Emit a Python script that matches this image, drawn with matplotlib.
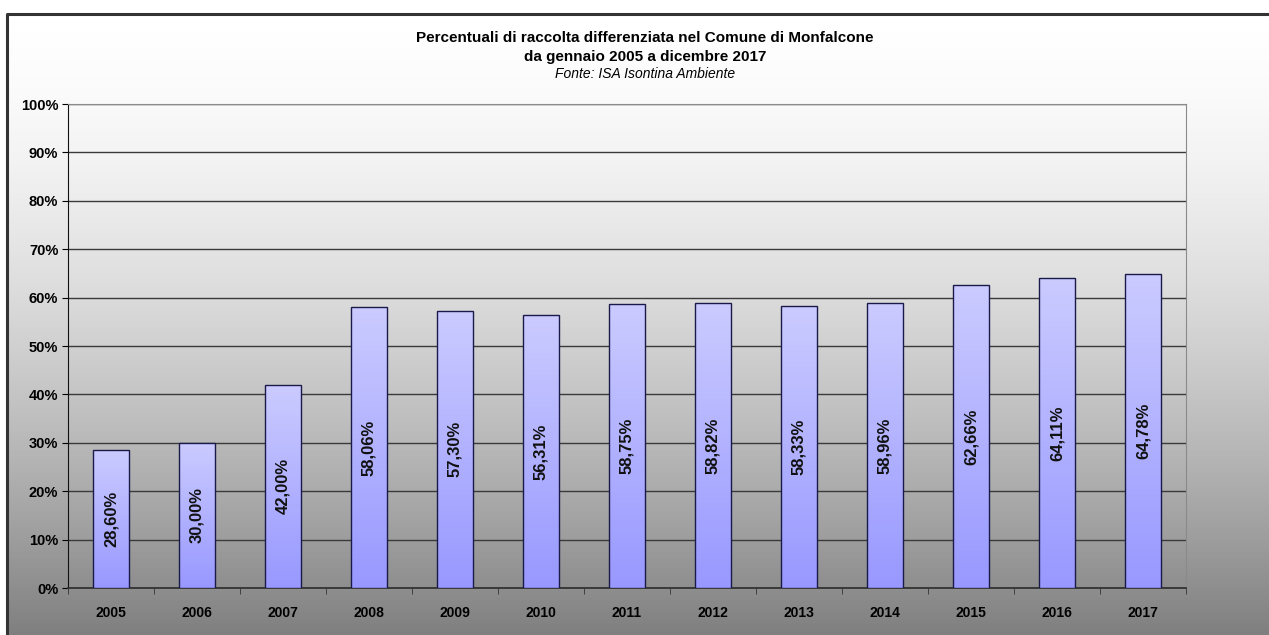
"""Percentuali di raccolta differenziata - Monfalcone 2005-2017."""
import numpy as np
import matplotlib
matplotlib.use('Agg')
import matplotlib.pyplot as plt
import matplotlib.ticker as ticker
from matplotlib.colors import LinearSegmentedColormap

plt.rcParams['font.family'] = ['Liberation Sans', 'DejaVu Sans']

years = ['2005', '2006', '2007', '2008', '2009', '2010', '2011',
         '2012', '2013', '2014', '2015', '2016', '2017']
values = [28.60, 30.00, 42.00, 58.06, 57.30, 56.31, 58.75,
          58.82, 58.33, 58.96, 62.66, 64.11, 64.78]

fig = plt.figure(figsize=(12.69, 6.35), dpi=100)

# background gradient (white -> grey) inside the chart frame
bg = fig.add_axes([0, 0, 1, 1], zorder=0)
bg.set_xlim(0, 1269)
bg.set_ylim(635, 0)
bg.axis('off')
bg_cmap = LinearSegmentedColormap.from_list('bg', ['#ffffff', '#7e7e7e'])
grad = (np.linspace(0, 1, 256) ** 1.6).reshape(-1, 1)
bg.imshow(grad, cmap=bg_cmap, vmin=0, vmax=1, extent=[7, 1269, 640, 14], aspect='auto')
bg.plot([7, 7, 1269], [640, 14, 14], color='#333333', lw=2.2, solid_capstyle='butt')

ax = fig.add_axes([68 / 1269, 1 - 588 / 635, (1186 - 68) / 1269, (588 - 104) / 635], zorder=1)
ax.patch.set_alpha(0)

x = np.arange(len(years))
bars = ax.bar(x, values, width=0.41, facecolor='none', edgecolor='#1a1a4a', linewidth=1, zorder=4)

bar_cmap = LinearSegmentedColormap.from_list('bar', ['#9898ff', '#cbcbff'])
for b in bars:
    x0, w, h = b.get_x(), b.get_width(), b.get_height()
    im = ax.imshow(np.linspace(0, 1, 128).reshape(-1, 1), cmap=bar_cmap, origin='lower',
                   extent=[x0, x0 + w, 0, h], aspect='auto', zorder=3)
    im.set_clip_path(b)
    ax.text(x0 + w / 2, h / 2, f'{h:.2f}%'.replace('.', ','), rotation=90,
            ha='center', va='center', fontsize=12, fontweight='bold', color='#111111', zorder=5)

ax.set_xlim(-0.5, len(years) - 0.5)
ax.set_ylim(0, 100)
ax.set_xticks(x)
ax.set_xticklabels(years, fontsize=10, fontweight='bold')
ax.set_xticks(np.arange(-0.5, len(years)), minor=True)
ax.tick_params(axis='x', which='major', length=0, pad=13)
ax.tick_params(axis='x', which='minor', length=4, direction='out', color='#333333')

ax.yaxis.set_major_locator(ticker.MultipleLocator(10))
ax.yaxis.set_major_formatter(ticker.FuncFormatter(lambda v, p: f'{v:.0f}%'))
ax.tick_params(axis='y', length=4, direction='out', labelsize=10.5, pad=3)
for lab in ax.get_yticklabels():
    lab.set_fontweight('bold')

ax.grid(axis='y', color='#3a3a3a', linewidth=1, zorder=1)
ax.set_axisbelow(True)
ax.spines['left'].set_color('#111111')
ax.spines['bottom'].set_color('#333333')
ax.spines['bottom'].set_linewidth(1.3)
ax.spines['right'].set_color('#8a8a8a')
ax.spines['top'].set_color('#8a8a8a')

fig.text(645 / 1269, 1 - 38 / 635, 'Percentuali di raccolta differenziata nel Comune di Monfalcone',
         ha='center', va='center', fontsize=11, fontweight='bold')
fig.text(645 / 1269, 1 - 57 / 635, 'da gennaio 2005 a dicembre 2017',
         ha='center', va='center', fontsize=11, fontweight='bold')
fig.text(645 / 1269, 1 - 74 / 635, 'Fonte: ISA Isontina Ambiente',
         ha='center', va='center', fontsize=10, style='italic')

plt.savefig('out.png', dpi=100, facecolor='white')
plt.close()
